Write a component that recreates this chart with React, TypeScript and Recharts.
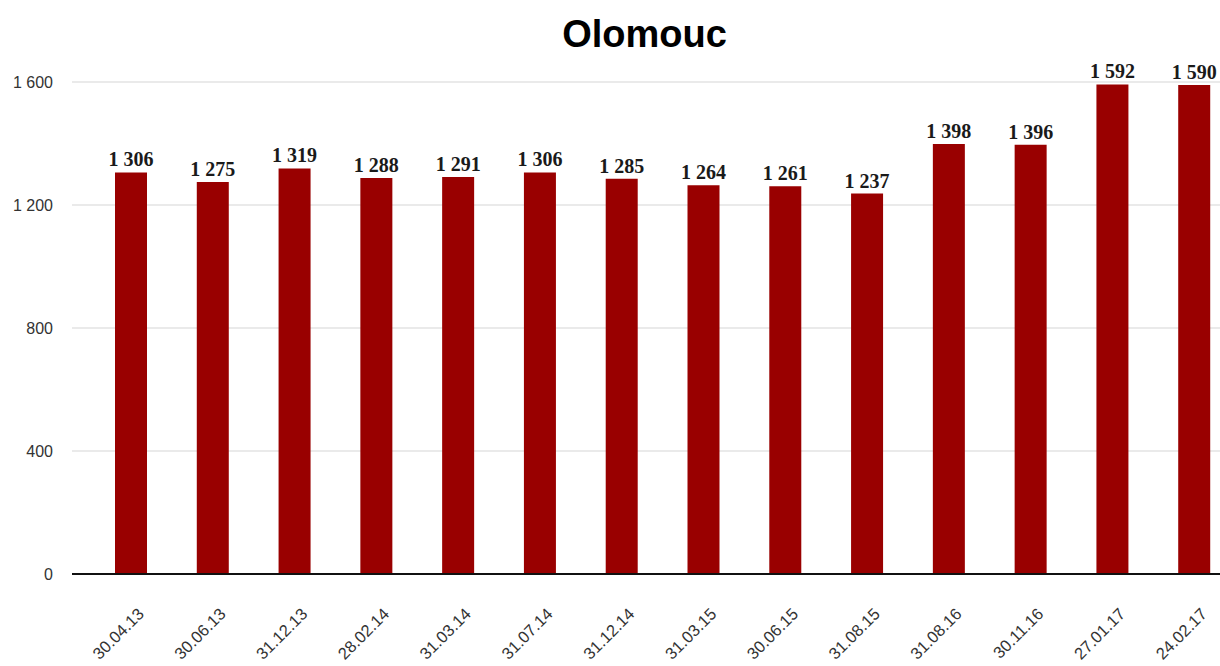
import React from "react";
import { BarChart, Bar, XAxis, YAxis, CartesianGrid, LabelList } from "recharts";

const dates = [
  "30.04.13", "30.06.13", "31.12.13", "28.02.14", "31.03.14", "31.07.14", "31.12.14",
  "31.03.15", "30.06.15", "31.08.15", "31.08.16", "30.11.16", "27.01.17", "24.02.17",
];
const counts = [1306, 1275, 1319, 1288, 1291, 1306, 1285, 1264, 1261, 1237, 1398, 1396, 1592, 1590];
const yTicks = [0, 400, 800, 1200, 1600];

const data = dates.map((d, i) => ({ date: d, value: counts[i] }));

// "1 600" style thousands separator
const fmt = (v: number) => String(v).replace(/\B(?=(\d{3})+(?!\d))/g, " ");

const DateTick = (props: any) => {
  const { x, y, payload } = props;
  return (
    <g transform={`translate(${x + 14},${y + 33})`}>
      <text
        textAnchor="end"
        transform="rotate(-45)"
        fill="#333"
        fontSize={16.5}
        fontFamily="Liberation Sans, Arial, sans-serif"
      >
        {payload.value}
      </text>
    </g>
  );
};

// value label above each bar, kept on one line
const ValueLabel = (props: any) => {
  const { x, y, width, value } = props;
  return (
    <text
      x={x + width / 2}
      y={y - 6}
      textAnchor="middle"
      fill="#1a1a1a"
      fontSize={20}
      fontWeight={700}
      fontFamily="Liberation Serif, Times New Roman, serif"
    >
      {fmt(Number(value))}
    </text>
  );
};

export default function App() {
  return (
    <div style={{ position: "absolute", left: 0, top: 0, width: 1220, height: 666, overflow: "hidden", background: "#fff" }}>
      <div
        style={{
          position: "absolute",
          left: 0,
          top: 11,
          width: 1289,
          textAlign: "center",
          fontFamily: "Liberation Sans, Arial, sans-serif",
          fontWeight: 700,
          fontSize: 38,
          lineHeight: "46px",
          color: "#000",
        }}
      >
        Olomouc
      </div>
      <BarChart
        width={1240}
        height={666}
        data={data}
        margin={{ top: 82, right: 5, left: 0, bottom: 12 }}
        style={{ position: "absolute", left: 0, top: 0 }}
      >
        <CartesianGrid vertical={false} stroke="#e3e3e3" strokeWidth={1.5} />
        <XAxis
          dataKey="date"
          height={80}
          padding={{ left: 18, right: 0 }}
          axisLine={{ stroke: "#111", strokeWidth: 2 }}
          tickLine={false}
          interval={0}
          tick={<DateTick />}
        />
        <YAxis
          width={72}
          domain={[0, 1600]}
          ticks={yTicks}
          tickFormatter={fmt}
          axisLine={false}
          tickLine={false}
          tickSize={0}
          tickMargin={19}
          tick={{ fill: "#333", fontSize: 16, fontFamily: "Liberation Sans, Arial, sans-serif" }}
        />
        <Bar dataKey="value" fill="#990000" barSize={32} isAnimationActive={false}>
          <LabelList dataKey="value" content={<ValueLabel />} />
        </Bar>
      </BarChart>
    </div>
  );
}
